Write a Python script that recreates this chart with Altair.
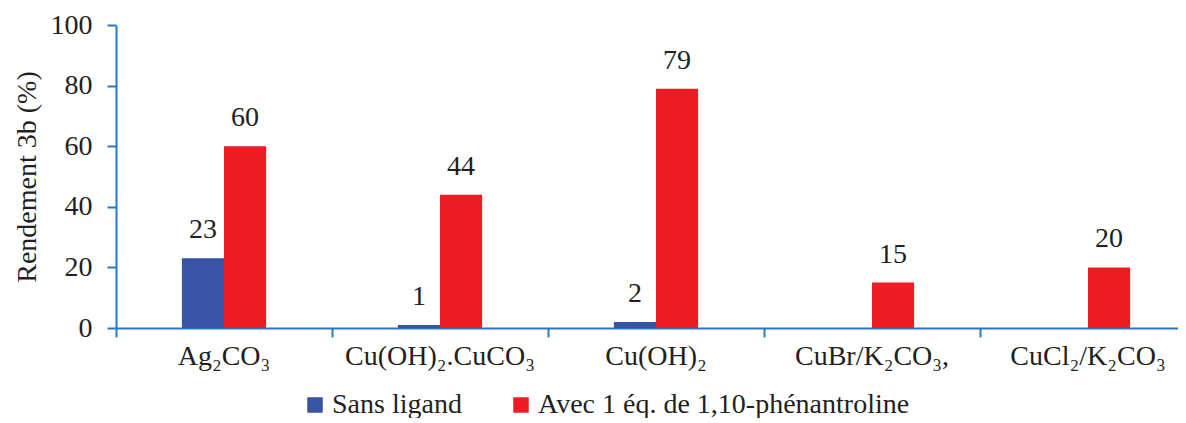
import altair as alt
import pandas as pd

categories = ["Ag₂CO₃", "Cu(OH)₂.CuCO₃", "Cu(OH)₂", "CuBr/K₂CO₃,", "CuCl₂/K₂CO₃"]
series = ["Sans ligand", "Avec 1 éq. de 1,10-phénantroline"]
sans_ligand = [23, 1, 2, None, None]
avec_phen = [60, 44, 79, 15, 20]
y_ticks = [0, 20, 40, 60, 80, 100]

rows = []
for c, s, a in zip(categories, sans_ligand, avec_phen):
    if s is not None:
        rows.append({"cat": c, "serie": series[0], "val": s})
    if a is not None:
        rows.append({"cat": c, "serie": series[1], "val": a})
df = pd.DataFrame(rows)

FONT = "Liberation Serif"
FS = 28
AXIS_COLOR = "#2a78c0"
TXT = "#231f20"

x = alt.X(
    "cat:N",
    sort=categories,
    scale=alt.Scale(domain=categories, paddingInner=0.61, paddingOuter=0.305, range=[0, 1080]),
    axis=alt.Axis(
        title=None, bandPosition=-0.78, labelAngle=0, labelFont=FONT, labelFontSize=FS,
        labelColor=TXT, labelPadding=5, tickSize=9, tickWidth=2, domainWidth=2,
        domainColor=AXIS_COLOR, tickColor=AXIS_COLOR, grid=False, labelLimit=0,
    ),
)
xo = alt.XOffset(
    "serie:N", sort=series,
    scale=alt.Scale(domain=series, paddingInner=0, paddingOuter=0),
)
y = alt.Y(
    "val:Q",
    scale=alt.Scale(domain=[0, 100]),
    axis=alt.Axis(
        values=y_ticks, title="Rendement 3b (%)", titleFont=FONT, titleFontSize=FS,
        titleFontWeight="normal", titleColor=TXT, titlePadding=9,
        labelFont=FONT, labelFontSize=FS, labelColor=TXT, labelPadding=15,
        tickSize=9, tickWidth=2, domainWidth=2, domainColor=AXIS_COLOR,
        tickColor=AXIS_COLOR, grid=False,
    ),
)
color = alt.Color(
    "serie:N", sort=series,
    scale=alt.Scale(domain=series, range=["#3953a4", "#ed1c24"]),
    legend=alt.Legend(
        title=None, orient="none", legendX=185, legendY=366, direction="horizontal",
        symbolType="square", symbolSize=240, symbolStrokeWidth=0,
        labelFont=FONT, labelFontSize=FS, labelColor=TXT, labelOffset=3,
        columnPadding=45, labelLimit=0,
        labelExpr="datum.label == 'Sans ligand' ? datum.label : '\u00a0\u00a0\u00a0' + datum.label",
    ),
)

bars = alt.Chart(df).mark_bar().encode(x=x, xOffset=xo, y=y, color=color)
labels = alt.Chart(df).mark_text(
    baseline="bottom", dy=-14, font=FONT, fontSize=FS, color=TXT
).encode(x=x, xOffset=xo, y=y, text="val:Q")

chart = (
    alt.layer(bars, labels)
    .properties(
        width=1062, height=303, autosize="none",
        padding={"left": 108, "top": 17, "right": 0, "bottom": 90},
    )
    .configure_view(stroke=None)
)

chart.save("out.html", embed_options={"renderer": "svg", "actions": False})
